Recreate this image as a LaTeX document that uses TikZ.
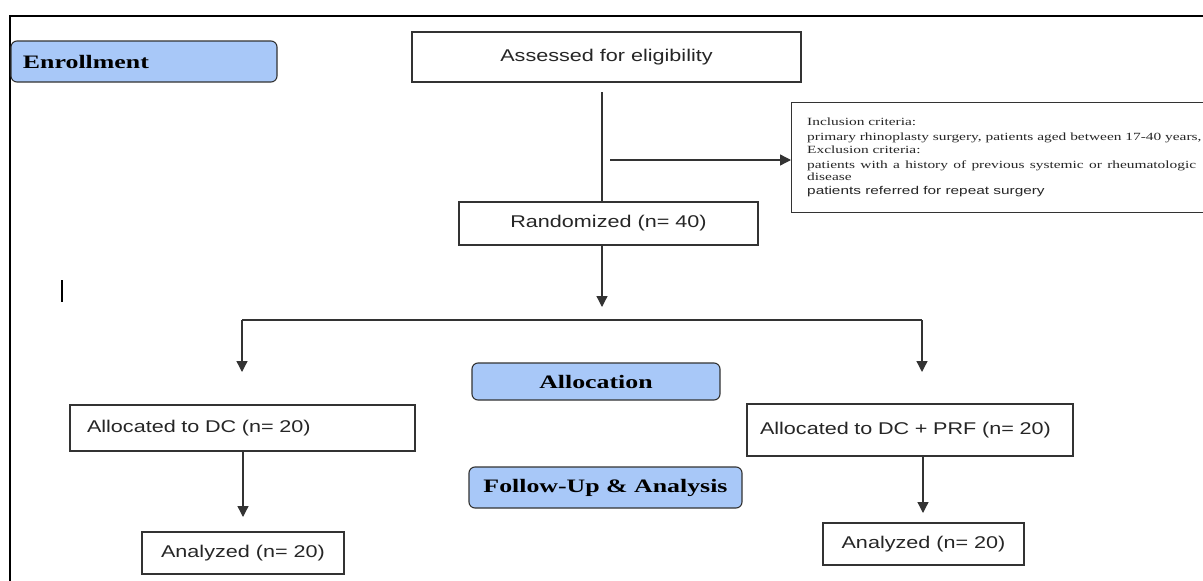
\documentclass[tikz,border=0pt]{standalone}
\usepackage{fontspec}
\usetikzlibrary{arrows.meta}
\newfontfamily\ssans[FakeStretch=1.27]{Liberation Sans}
\newfontfamily\sserb[FakeStretch=1.36]{Liberation Serif}
\newfontfamily\sserc[FakeStretch=1.40]{Liberation Serif}
\newfontfamily\ssansc[FakeStretch=1.36]{Liberation Sans}
\definecolor{boxline}{HTML}{333333}
\definecolor{txt}{HTML}{262626}
\definecolor{phase}{HTML}{A8C8F8}
\begin{document}
\begin{tikzpicture}[x=1pt,y=-1pt,
  box/.style={draw=boxline, line width=1.3pt, fill=white, text=txt,
    font=\ssans\fontsize{17}{20}\selectfont, inner sep=0pt},
  phasebox/.style={draw=boxline, line width=1.1pt, fill=phase, rounded corners=6pt,
    text=black, font=\sserb\bfseries\fontsize{19}{22}\selectfont, inner sep=0pt},
  crittext/.style={text=txt, inner sep=0pt, anchor=base west,
    font=\sserc\fontsize{11}{12}\selectfont},
  critsans/.style={text=txt, inner sep=0pt, anchor=base west,
    font=\ssansc\fontsize{11.3}{13}\selectfont},
  conn/.style={draw=boxline, line width=1.3pt},
  arr/.style={conn, -{Triangle[length=11pt,width=11pt]}},
]
\useasboundingbox (0,0) rectangle (1203,581);
\fill[white] (0,0) rectangle (1203,581);
% outer frame
\draw[line width=2.5pt, black] (1203,16) -- (10,16) -- (10,581);

% phase labels
\node[phasebox, minimum width=266pt, minimum height=41pt, inner xsep=12pt,
      text width=242pt, align=left] (enr) at (144,61.5) {Enrollment};
\node[phasebox, minimum width=248pt, minimum height=37pt] (alloc) at (596,381.5) {Allocation};
\node[phasebox, minimum width=273pt, minimum height=41pt] (fup) at (605.5,487.5) {Follow-Up \& Analysis};

% main boxes
\node[box, minimum width=389pt, minimum height=50pt] (elig) at (606.5,57) {\raisebox{4pt}{Assessed for eligibility}};
\node[box, minimum width=430pt, minimum height=110pt, anchor=north west] (crit) at (791,102) {};
\node[crittext] (c1) at (807,125) {Inclusion criteria:};
\node[crittext] (c2) at (807,140) {primary rhinoplasty surgery, patients aged between 17-40 years,};
\node[crittext] (c3) at (807,153) {Exclusion criteria:};
\node[crittext] (c4) at (807,168) {\makebox[389pt][s]{patients with a history of previous systemic or rheumatologic}};
\node[crittext] (c5) at (807,180) {disease};
\node[critsans] (c6) at (807,194) {patients referred for repeat surgery};

\node[box, minimum width=299pt, minimum height=43pt] (rand) at (608.5,223.5) {Randomized (n= 40)};

\node[box, minimum width=345pt, minimum height=46pt, inner xsep=17pt, text width=311pt,
      align=left] (dc) at (242.5,428) {\raisebox{1pt}{Allocated to DC (n= 20)}};
\node[box, minimum width=326pt, minimum height=52pt, inner xsep=13pt, text width=300pt,
      align=left] (dcp) at (910,430) {\raisebox{4pt}{Allocated to DC + PRF (n= 20)}};

\node[box, minimum width=202pt, minimum height=42pt] (anl) at (243,553) {Analyzed (n= 20)};
\node[box, minimum width=201pt, minimum height=42pt] (anr) at (923.5,544) {Analyzed (n= 20)};

% connectors
\coordinate (v1) at (602,92);
\draw[conn] (v1) -- (v1 |- rand.north);
\coordinate (hs) at (610,160);
\draw[arr] (hs) -- (hs -| crit.west);
\coordinate (ra1) at (602,307);
\draw[arr] (ra1 |- rand.south) -- (ra1);
\coordinate (bl) at (242,320);
\coordinate (br) at (922,320);
\coordinate (tl) at (242,372);
\coordinate (tr) at (922,372);
\draw[conn] (bl) -- (br);
\draw[arr] (bl) -- (tl);
\draw[arr] (br) -- (tr);
\coordinate (la) at (243,517);
\draw[arr] (la |- dc.south) -- (la);
\coordinate (ra2) at (923,513);
\draw[arr] (ra2 |- dcp.south) -- (ra2);

% stray mark
\coordinate (s1) at (62,280);
\coordinate (s2) at (62,302);
\draw[line width=1.3pt, black] (s1) -- (s2);
\end{tikzpicture}
\end{document}
